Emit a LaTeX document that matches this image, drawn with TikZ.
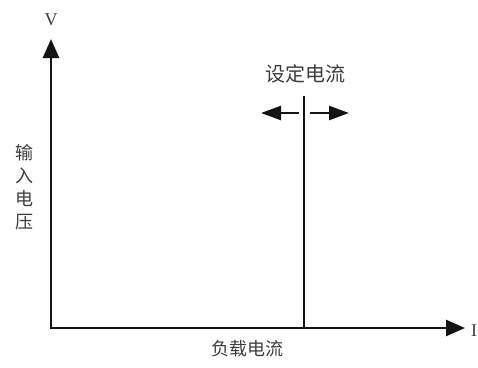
\documentclass[tikz,border=0pt]{standalone}
\usepackage{fontspec}
\usetikzlibrary{arrows.meta}
\newfontfamily\cjk{Noto Sans CJK SC}
\setmainfont{Liberation Serif}
\definecolor{Tinta}{RGB}{20, 20, 20}
\definecolor{Texto}{RGB}{60, 60, 60}

\begin{document}
\begin{tikzpicture}[x=1pt,y=-1pt,
        eje/.style={draw=Tinta, line width=2.6pt, -{Triangle[length=19pt,width=16pt]}},
        flecha/.style={draw=Tinta, line width=2.6pt, -{Triangle[length=20pt,width=14pt]}},
        rotulo/.style={text=Texto, inner sep=0pt, font=\cjk\fontsize{18}{20}\selectfont}]
            \useasboundingbox (0,0) rectangle (478,367);
            %Ejes
            \coordinate (O) at (51,328);
            \coordinate (Ytip) at (51,39);
            \coordinate (Xtip) at (465,328);
            \node[text=Texto, inner sep=0pt, font=\fontsize{18}{18}\selectfont] (V) at (51,20) {V};
            \node[text=Texto, inner sep=0pt, anchor=west, font=\fontsize{18}{18}\selectfont] (I) at (471,331) {I};
            \draw[eje, line cap=rect] (O) -- (Ytip);
            \draw[eje, line cap=rect] (O) -- (Xtip);
            %Corriente fijada
            \coordinate (Base) at (304,328);
            \coordinate (Top) at (304,96);
            \draw[draw=Tinta, line width=2.6pt] (Base) -- (Top);
            \node[rotulo, font=\cjk\fontsize{20}{22}\selectfont] (Ajuste) at (305,74) {设定电流};
            \coordinate (Lcola) at (299,113);
            \coordinate (Lpunta) at (261,113);
            \coordinate (Rcola) at (310,113);
            \coordinate (Rpunta) at (349,113);
            \draw[flecha] (Lcola) -- (Lpunta);
            \draw[flecha] (Rcola) -- (Rpunta);
            %Rotulos
            \node[rotulo, align=center, font=\cjk\fontsize{18}{23}\selectfont] (Entrada) at (25,187) {输\\入\\电\\压};
            \node[rotulo] (Carga) at (247,349) {负载电流};
        \end{tikzpicture}
\end{document}
